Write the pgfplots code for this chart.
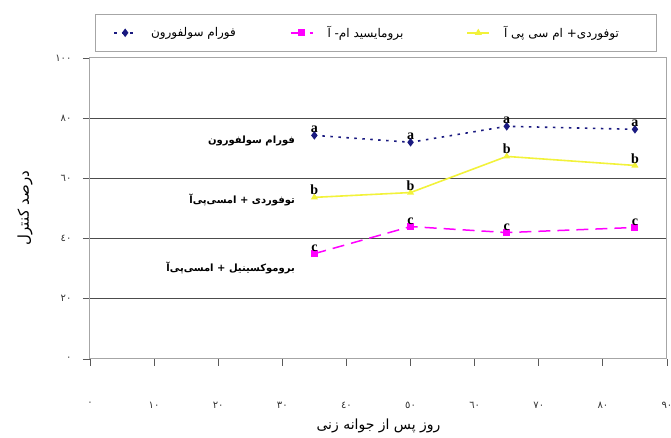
\documentclass[border=0pt]{standalone}
\usepackage{pgfplots}
\pgfplotsset{compat=1.18}
\usepackage{fontspec}
\setmainfont{Liberation Serif}
\newfontfamily\arabicfont[Script=Arabic]{DejaVu Sans}
\TeXXeTstate=1
\definecolor{cblue}{HTML}{1A1A80}
\definecolor{cmag}{HTML}{FF00FF}
\definecolor{cyel}{HTML}{F2F23A}
\begin{document}
\begin{tikzpicture}
\useasboundingbox (-90pt,-79pt) rectangle (581pt,359pt);
\begin{axis}[
  scale only axis,
  width=577pt, height=301pt,
  xmin=0, xmax=90, ymin=0, ymax=100,
  xtick={0,10,...,90},
  xticklabels={٠,١٠,٢٠,٣٠,٤٠,٥٠,٦٠,٧٠,٨٠,٩٠},
  ytick={0,20,...,100},
  yticklabels={٠,٢٠,٤٠,٦٠,٨٠,١٠٠},
  tick pos=left,
  tick align=outside,
  major tick length=7pt,
  tick style={gray!70!black, line width=0.8pt},
  axis line style={gray!70, line width=1pt},
  ymajorgrids,
  major grid style={gray!60!black, line width=1pt},
  xticklabel style={font=\arabicfont\fontsize{10}{11}\selectfont, text=black!80, yshift=-33pt},
  yticklabel style={font=\arabicfont\fontsize{10}{11}\selectfont, text=black!80, xshift=-8pt},
  xlabel={\arabicfont\beginR روز پس از جوانه زنی\endR},
  xlabel style={font=\arabicfont\fontsize{14}{15}\selectfont, at={(rel axis cs:0.5,0)}, anchor=center, yshift=-67pt},
  ylabel={\arabicfont\beginR درصد کنترل\endR},
  ylabel style={font=\arabicfont\fontsize{15}{16}\selectfont, at={(rel axis cs:-0.1127,0.502)}, anchor=center},
  legend columns=3,
  legend style={at={(rel axis cs:0.00867,1.1462)}, anchor=north west,
    draw=gray!70, line width=0.8pt, inner xsep=18pt, inner ysep=10pt,
    font=\arabicfont\fontsize{12}{13}\selectfont,
    /tikz/every odd column/.append style={column sep=12pt},
    /tikz/every even column/.append style={column sep=5pt},
    cells={anchor=west}},
  legend image code/.code={\draw[mark repeat=2,mark phase=2,#1] plot coordinates {(0pt,0pt)(11pt,0pt)(22pt,0pt)};},
  point meta=explicit symbolic,
  nodes near coords,
  every node near coord/.append style={font=\bfseries\fontsize{14}{14}\selectfont, text=black, anchor=south, inner sep=1.5pt},
]
\addplot[color=cblue, line width=1.6pt, dash pattern=on 2.5pt off 5.5pt, mark=diamond*, mark size=3pt, mark options={solid}]
  coordinates {(35,74.3)[a] (50,72)[a] (65,77.3)[a] (85,76.3)[a]};
\addlegendentry{\makebox[132pt][l]{\arabicfont\beginR فورام سولفورون\endR}}
\addplot[color=cmag, line width=1.5pt, dash pattern=on 12pt off 7pt, mark=square*, mark size=2.8pt, mark options={solid}]
  coordinates {(35,35)[c] (50,44)[c] (65,42)[c] (85,43.7)[c]};
\addlegendentry{\makebox[132pt][l]{\arabicfont\beginR برومایسید ام- آ\endR}}
\addplot[color=cyel, line width=1.6pt, mark=triangle*, mark size=2.5pt]
  coordinates {(35,53.7)[b] (50,55.3)[b] (65,67.3)[b] (85,64.3)[b]};
\addlegendentry{\makebox[132pt][l]{\arabicfont\beginR توفوردی+ ام سی پی آ\endR}}
\node[anchor=east, font=\arabicfont\bfseries\fontsize{10}{11}\selectfont] at (axis cs:32.5,72.4) {\beginR فورام سولفورون\endR};
\node[anchor=east, font=\arabicfont\bfseries\fontsize{10}{11}\selectfont] at (axis cs:32.5,53) {\beginR توفوردی + امسی‌پی‌آ\endR};
\node[anchor=east, font=\arabicfont\bfseries\fontsize{10}{11}\selectfont] at (axis cs:32.5,30.4) {\beginR بروموکسینیل + امسی‌پی‌آ\endR};
\end{axis}
\end{tikzpicture}
\end{document}
